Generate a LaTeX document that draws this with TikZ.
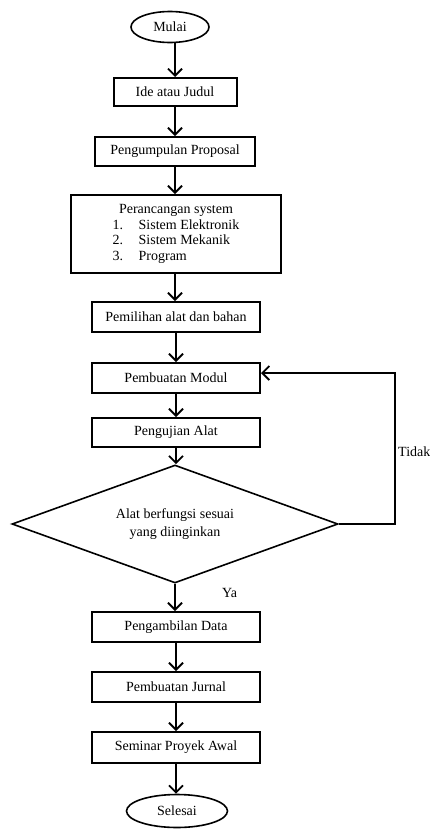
\documentclass[tikz,border=0pt]{standalone}
\usepackage{fontspec}
\setmainfont{Liberation Serif}
\usetikzlibrary{arrows.meta,shapes.geometric}

\begin{document}
\begin{tikzpicture}[x=1pt, y=-1pt,
	every node/.style={font=\fontsize{14}{15.5}\selectfont, inner sep=0pt},
	box/.style={rectangle, draw, line width=2pt, minimum width=168pt, minimum height=30pt},
	terminal/.style={ellipse, draw, line width=1.6pt},
	decision/.style={diamond, draw, line width=1.6pt, shape aspect=2.76, minimum width=326pt, minimum height=118pt, align=center},
	flow/.style={-{Straight Barb[length=7pt,width=14pt]}, line width=1.8pt}]
	\useasboundingbox (0,0) rectangle (430,830);
	\node[terminal, minimum width=78pt, minimum height=31pt] (mulai) at (170,27) {Mulai};
	\node[box, minimum width=123pt, minimum height=28pt] (ide) at (175,92) {Ide atau Judul};
	\node[box, minimum width=160pt, minimum height=29pt] (kumpul) at (175,151.5) {Pengumpulan Proposal};
	\node[box, minimum width=210pt, minimum height=78pt] (rancang) at (176,234) {\begin{tabular}{@{}p{26pt}@{}l@{}}
		\multicolumn{2}{@{}c@{}}{Perancangan system}\\
		1.&Sistem Elektronik\\
		2.&Sistem Mekanik\\
		3.&Program
	\end{tabular}};
	\node[box] (pilih) at (176,317) {Pemilihan alat dan bahan};
	\node[box] (modul) at (176,378) {Pembuatan Modul};
	\node[box, minimum height=29pt] (uji) at (176,432.5) {Pengujian Alat};
	\node[decision] (cek) at (175,524) {Alat berfungsi sesuai\\[3pt]yang diinginkan};
	\node[box] (ambil) at (176,627) {Pengambilan Data};
	\node[box] (jurnal) at (176,687) {Pembuatan Jurnal};
	\node[box, minimum height=31pt] (seminar) at (176,747.5) {Seminar Proyek Awal};
	\node[terminal, minimum width=101pt, minimum height=33pt] (selesai) at (177,811) {Selesai};
	\node[anchor=west] (tidak) at (398,452) {Tidak};
	\node[anchor=west] (ya) at (222,593) {Ya};
	\coordinate (belok) at (395,373);
	\draw[flow] (mulai.south -| ide.north) -- (ide.north);
	\draw[flow] (ide) -- (kumpul);
	\draw[flow] (kumpul) -- (kumpul |- rancang.north);
	\draw[flow] (kumpul |- rancang.south) -- (kumpul |- pilih.north);
	\draw[flow] (pilih) -- (modul);
	\draw[flow] (modul) -- (uji);
	\draw[flow] (uji.south) -- (uji.south |- cek.north);
	\draw[flow] (cek.south) -- (cek.south |- ambil.north);
	\draw[flow] (ambil) -- (jurnal);
	\draw[flow] (jurnal) -- (seminar);
	\draw[flow] (seminar) -- (seminar.south |- selesai.north);
	\draw[flow] (cek.east) -| (belok) -- (modul.east |- belok);
\end{tikzpicture}
\end{document}
